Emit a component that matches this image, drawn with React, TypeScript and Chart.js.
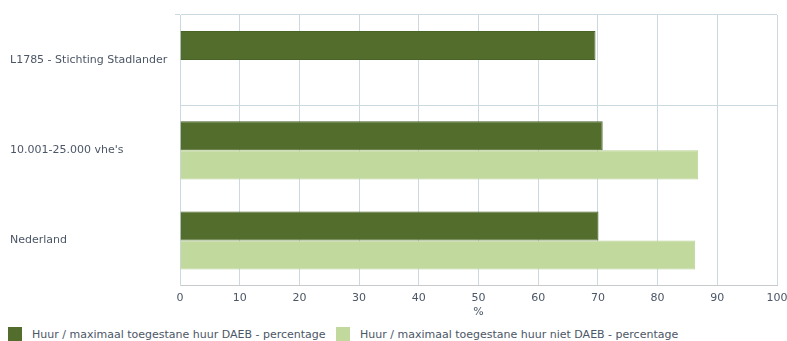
import React, { useEffect, useRef } from 'react';
import { Chart, registerables } from 'chart.js';

Chart.register(...registerables);

const categories = ['L1785 - Stichting Stadlander', "10.001-25.000 vhe's", 'Nederland'];
const daebValues = [69.6, 70.8, 70.1];
const nietDaebValues: (number | null)[] = [null, 86.8, 86.3];
const seriesLabels = [
  'Huur / maximaal toegestane huur DAEB - percentage',
  'Huur / maximaal toegestane huur niet DAEB - percentage',
];
const seriesColors = ['#526d2c', '#c2d99e'];
const seriesBorders = ['#4a6427', '#b9d293'];
const axisTitle = '%';

const FONT = '"DejaVu Sans", Verdana, sans-serif';
const GRID = '#ccd9e0';
const AXIS = '#c6cacc';
const TEXT = '#4b5666';

export default function App() {
  const ref = useRef<HTMLCanvasElement | null>(null);
  useEffect(() => {
    if (!ref.current) return;
    const chart = new Chart(ref.current, {
      type: 'bar',
      data: {
        labels: categories,
        datasets: [
          {
            label: seriesLabels[0],
            data: daebValues,
            backgroundColor: seriesColors[0],
            borderColor: seriesBorders[0],
            borderWidth: 1,
            barPercentage: 1,
            categoryPercentage: 0.645,
          },
          {
            label: seriesLabels[1],
            data: nietDaebValues,
            backgroundColor: seriesColors[1],
            borderColor: seriesBorders[1],
            borderWidth: 1,
            barPercentage: 1,
            categoryPercentage: 0.645,
          },
        ],
      },
      options: {
        indexAxis: 'y',
        animation: false,
        responsive: true,
        maintainAspectRatio: false,
        layout: { padding: { left: 10, right: 0, top: 15, bottom: 0 } },
        plugins: {
          tooltip: { enabled: false },
          legend: { display: false },
        },
        scales: {
          x: {
            min: 0,
            max: 100,
            ticks: { stepSize: 10, color: TEXT, font: { family: FONT, size: 11 }, padding: 6 },
            grid: { color: GRID, drawTicks: false },
            border: { display: true, color: AXIS },
            title: { display: true, text: axisTitle, color: TEXT, font: { family: FONT, size: 11 }, padding: { top: -5, bottom: 0 } },
            afterFit: (scale: any) => {
              scale.paddingRight = 10;
            },
          },
          y: {
            ticks: { color: TEXT, font: { family: FONT, size: 11 }, crossAlign: 'far' },
            grid: {
              offset: true,
              drawTicks: true,
              tickLength: 5,
              color: (ctx: any) => (ctx.index === 2 ? 'rgba(0,0,0,0)' : ctx.index === 3 ? AXIS : GRID),
              tickColor: (ctx: any) => (ctx.index === 0 ? GRID : ctx.index === 3 ? AXIS : 'rgba(0,0,0,0)'),
            },
            border: { display: true, color: GRID },
            afterFit: (scale: any) => {
              scale.width = 170;
            },
          },
        },
      } as any,
    });
    return () => chart.destroy();
  }, []);
  const legendItem = (i: number, left: number) => (
    <div
      key={i}
      style={{
        position: 'absolute',
        left,
        top: 327,
        display: 'flex',
        alignItems: 'center',
        height: 14,
        fontFamily: FONT,
        fontSize: 11,
        color: TEXT,
        whiteSpace: 'nowrap',
      }}
    >
      <span style={{ display: 'inline-block', width: 14, height: 14, background: seriesColors[i], marginRight: 10 }} />
      <span>{seriesLabels[i]}</span>
    </div>
  );
  return (
    <div style={{ position: 'fixed', left: 0, top: 0, width: 787, height: 341, background: '#fff' }}>
      <div style={{ position: 'absolute', left: 0, top: 0, width: 787, height: 319 }}>
        <canvas ref={ref} />
      </div>
      {legendItem(0, 8)}
      {legendItem(1, 336)}
    </div>
  );
}
